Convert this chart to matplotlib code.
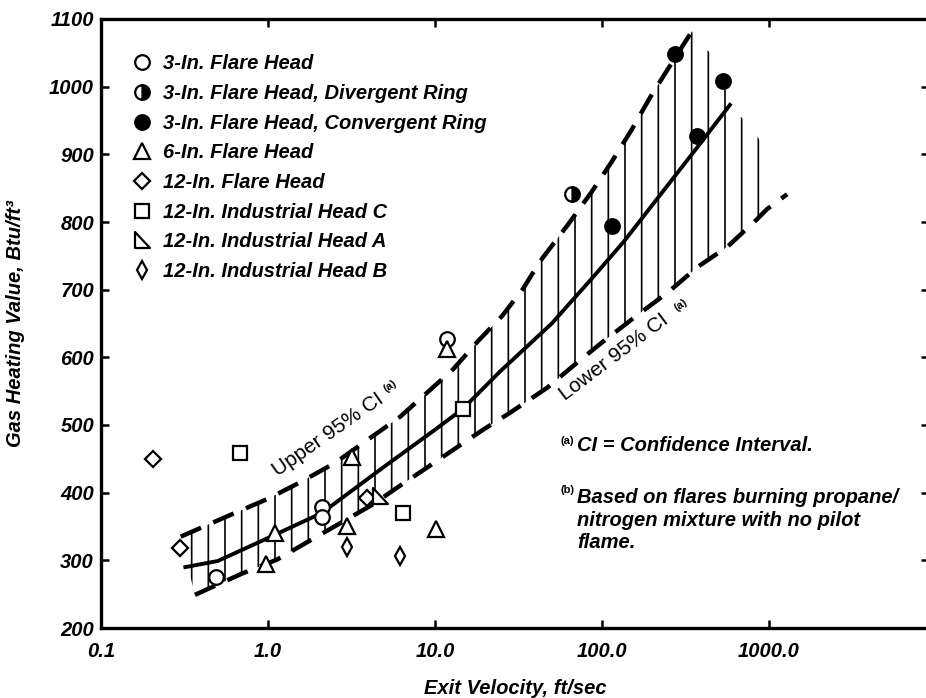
import numpy as np
import matplotlib.pyplot as plt
from matplotlib.path import Path
from matplotlib.ticker import NullLocator

plt.rcParams['font.family'] = ['Liberation Sans', 'DejaVu Sans']
plt.rcParams['hatch.linewidth'] = 1.2
plt.rcParams['hatch.color'] = 'black'

# ---- data ----
# fitted curve
fit_x = [0.32, 0.5, 1.0, 2.1, 5.0, 10, 14.7, 24.5, 50, 88, 134, 200, 371, 583]
fit_y = [290, 299, 333, 370, 439, 493, 524, 579, 650, 718, 770, 825, 910, 973]

# upper 95% confidence limit (dashed)
upper_x = [0.30, 0.62, 1.0, 1.55, 2.52, 6.17, 12.8, 18.1, 25.2, 33.6, 42.6,
           62.5, 87, 115, 151, 194, 248, 346]
upper_y = [335, 369, 391, 415, 444, 512, 582, 624, 661, 701, 742,
           796, 845, 890, 937, 984, 1026, 1082]

# lower 95% confidence limit (dashed)
lower_x = [0.365, 0.708, 1.13, 1.96, 4.2, 5.9, 8.95, 12.8, 19.4, 28.1, 46.9,
           70.8, 100, 164, 248, 376, 567, 847, 973, 1283]
lower_y = [249, 281, 301, 335, 382, 407, 437, 463, 493, 518, 555,
           592, 622, 663, 696, 734, 764, 804, 819, 841]

# tops of the hatch lines past the end of the upper limit
hatch_top_x = [376, 489, 643, 813, 1057]
hatch_top_y = [1066, 1041, 962, 934, 890]
hatch_end_y = 833

# measured points
flare3_x, flare3_y = [0.49, 2.1, 2.1, 11.8], [275, 379, 364, 627]
diverg_x, diverg_y = [66], [841]
converg_x, converg_y = [115, 273, 371, 531], [794, 1048, 927, 1008]
flare6_x = [0.97, 1.10, 2.97, 3.18, 10.1, 11.8]
flare6_y = [295, 341, 351, 452, 346, 612]
flare12_x, flare12_y = [0.205, 0.297, 3.9], [450, 318, 392]
indC_x, indC_y = [0.68, 6.43, 14.7], [459, 370, 524]
indA_x, indA_y = [4.7], [395]
indB_x, indB_y = [2.97, 6.2], [320, 307]

xticks = [0.1, 1, 10, 100, 1000]
xticklabels = ['0.1', '1.0', '10.0', '100.0', '1000.0']
yticks = list(range(200, 1101, 100))

# ---- figure ----
fig = plt.figure(figsize=(9.26, 6.98), dpi=100)
ax = fig.add_axes([101 / 926, 70 / 698, 828 / 926, 609 / 698])
ax.set_xscale('log')
ax.set_xlim(0.1, 9080)
ax.set_ylim(200, 1100)

# hatched confidence band
keep = [i for i, v in enumerate(lower_x) if v < hatch_top_x[-1]]
poly_x = upper_x + hatch_top_x + [hatch_top_x[-1]] + [lower_x[i] for i in keep[::-1]]
poly_y = upper_y + hatch_top_y + [hatch_end_y] + [lower_y[i] for i in keep[::-1]]
ax.fill(poly_x, poly_y, facecolor='none', edgecolor='black', linewidth=0,
        hatch='|', zorder=1)

ax.plot(upper_x, upper_y, color='black', lw=3.2, linestyle=(0, (5, 3)), zorder=2)
ax.plot(lower_x, lower_y, color='black', lw=3.2, linestyle=(0, (5, 3)), zorder=2)
ax.plot(fit_x, fit_y, color='black', lw=2.8, zorder=2)

# markers
head_a = Path([(-0.45, 0.5), (-0.45, -0.5), (0.5, -0.5), (-0.45, 0.5)],
              [Path.MOVETO, Path.LINETO, Path.LINETO, Path.CLOSEPOLY])
mk = dict(linestyle='none', mec='black', mew=1.6, zorder=3)
ax.plot(flare3_x, flare3_y, marker='o', ms=10.5, mfc='white',
        label='3-In. Flare Head', **mk)
ax.plot(diverg_x, diverg_y, marker='o', ms=10.5, mfc='black', fillstyle='right',
        markerfacecoloralt='white', label='3-In. Flare Head, Divergent Ring', **mk)
ax.plot(converg_x, converg_y, marker='o', ms=10.5, mfc='black',
        label='3-In. Flare Head, Convergent Ring', **mk)
ax.plot(flare6_x, flare6_y, marker='^', ms=11, mfc='white',
        label='6-In. Flare Head', **mk)
ax.plot(flare12_x, flare12_y, marker='D', ms=8.2, mfc='white',
        label='12-In. Flare Head', **mk)
ax.plot(indC_x, indC_y, marker='s', ms=10, mfc='white',
        label='12-In. Industrial Head C', **mk)
ax.plot(indA_x, indA_y, marker=head_a, ms=11, mfc='white',
        label='12-In. Industrial Head A', **mk)
ax.plot(indB_x, indB_y, marker='d', ms=9, mfc='white',
        label='12-In. Industrial Head B', **mk)

lab = dict(family='Liberation Sans', style='italic', weight='bold', size=14.5)
ax.legend(loc='upper left', bbox_to_anchor=(0.0375, 0.942), frameon=False,
          borderpad=0, borderaxespad=0, handlelength=1.0, handletextpad=0.55,
          labelspacing=0.53, numpoints=1, prop=lab)

# axes styling
ax.set_xticks(xticks)
ax.set_xticklabels(xticklabels)
ax.set_yticks(yticks)
ax.set_yticklabels([str(v) for v in yticks])
ax.xaxis.set_minor_locator(NullLocator())
ax.tick_params(which='major', direction='in', length=6, width=1.8,
               top=True, right=True)
ax.tick_params(axis='x', pad=10)
ax.tick_params(axis='y', pad=5)
for t in ax.get_xticklabels() + ax.get_yticklabels():
    t.set_fontproperties(lab)
for s in ax.spines.values():
    s.set_linewidth(2.4)

ax.set_xlabel('Exit Velocity, ft/sec', fontdict=lab)
ax.xaxis.set_label_coords(0.5, -0.083)
ax.set_ylabel('Gas Heating Value, Btu/ft³', fontdict=lab)
ax.yaxis.set_label_coords(-0.092, 0.5)

# band labels
ci = dict(family='Liberation Sans', size=15, ha='center', va='center',
          rotation_mode='anchor', transform=ax.transAxes)
ax.text(0.274, 0.318, 'Upper 95% CI', rotation=35, **ci)
ax.text(0.349, 0.397, '(a)', rotation=35, fontsize=8, family='Liberation Sans',
        weight='bold', ha='center', va='center', transform=ax.transAxes)
ax.text(0.619, 0.444, 'Lower 95% CI', rotation=37, **ci)
ax.text(0.700, 0.530, '(a)', rotation=37, fontsize=8, family='Liberation Sans',
        weight='bold', ha='center', va='center', transform=ax.transAxes)

# footnotes
ax.text(0.563, 0.307, '(a)', fontsize=8, weight='bold', ha='center',
        va='center', transform=ax.transAxes)
ax.text(0.575, 0.299, 'CI = Confidence Interval.', ha='left', va='center',
        transform=ax.transAxes, fontdict=lab)
ax.text(0.563, 0.227, '(b)', fontsize=8, weight='bold', ha='center',
        va='center', transform=ax.transAxes)
ax.text(0.575, 0.230,
        'Based on flares burning propane/\nnitrogen mixture with no pilot\nflame.',
        ha='left', va='top', linespacing=1.25, transform=ax.transAxes,
        fontdict=lab)

fig.savefig('out.png', dpi=100)
